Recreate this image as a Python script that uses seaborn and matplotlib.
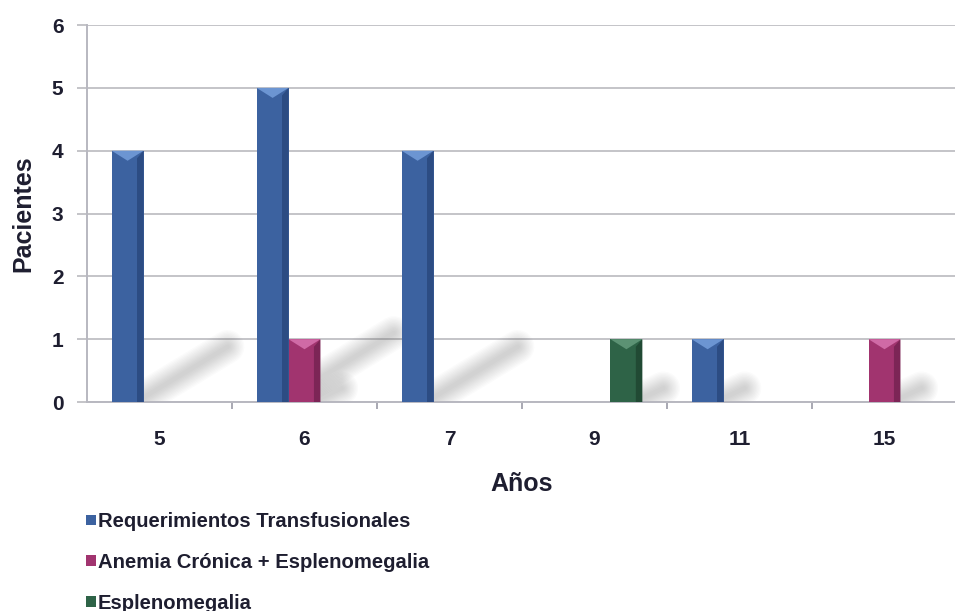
import numpy as np
import pandas as pd
import matplotlib
matplotlib.use("Agg")
import matplotlib.pyplot as plt
from matplotlib.patches import Polygon, Patch
import seaborn as sns

# Ages (years) and number of patients per indication
edades = ["5", "6", "7", "9", "11", "15"]
series = [
    "Requerimientos Transfusionales",
    "Anemia Crónica + Esplenomegalia",
    "Esplenomegalia",
]
requerimientos = [4, 5, 4, 0, 1, 0]
anemia_espleno = [0, 1, 0, 0, 0, 1]
esplenomegalia = [0, 0, 0, 1, 0, 0]
y_ticks = [0, 1, 2, 3, 4, 5, 6]

colores = ["#3C62A0", "#A1346F", "#2E6347"]
claros = ["#6C95D2", "#D06AA6", "#5C9274"]
oscuros = ["#2C4C83", "#7C2556", "#214A34"]
texto = "#1E1E30"

df = pd.DataFrame({
    "Años": edades * 3,
    "Serie": [s for s in series for _ in edades],
    "Pacientes": requerimientos + anemia_espleno + esplenomegalia,
})

sns.set_theme(style="white")
plt.rcParams["font.family"] = ["Liberation Sans", "DejaVu Sans"]
plt.rcParams["font.weight"] = "bold"

fig = plt.figure(figsize=(9.55, 6.11), dpi=100)
ax = fig.add_axes([0.0911, 0.342, 0.911, 0.617])

sns.barplot(data=df, x="Años", y="Pacientes", hue="Serie", order=edades,
            hue_order=series, palette=colores, width=0.66, gap=0,
            saturation=1, legend=False, ax=ax, zorder=3, linewidth=0)

ax.set_ylim(0, 6)
ax.set_xlim(-0.5, len(edades) - 0.5)
ax.set_yticks(y_ticks)

# gridlines and spines
ax.yaxis.grid(True, color="#C4C4C8", linewidth=1.4, zorder=0)
ax.set_axisbelow(True)
for s in ["top", "right"]:
    ax.spines[s].set_visible(False)
for s in ["left", "bottom"]:
    ax.spines[s].set_color("#B8B8C0")
    ax.spines[s].set_linewidth(1.4)

# tick marks between categories, labels at centres
ax.set_xticks(np.arange(len(edades)) + 0.5, minor=True)
ax.tick_params(axis="x", which="minor", length=5, width=1.2, color="#9A9AA6", bottom=True)
ax.tick_params(axis="x", which="major", length=0, pad=20, labelsize=15, labelcolor=texto)
ax.tick_params(axis="y", which="major", length=7, width=1.4, color="#C4C4C8",
               pad=10, labelsize=15, labelcolor=texto, left=True)
for lab in ax.get_xticklabels() + ax.get_yticklabels():
    lab.set_fontweight("bold")

ax.set_xlabel("Años", fontsize=18, fontweight="bold", color=texto, labelpad=17)
ax.set_ylabel("Pacientes", fontsize=18, fontweight="bold", color=texto, labelpad=12)

# bevel highlights and cast shadows for each bar
n_cat = len(edades)
capas = np.linspace(24, 3, 12)
for k, bar in enumerate(list(ax.patches)):
    h = bar.get_height()
    if h <= 0:
        continue
    si = k // n_cat
    x0 = bar.get_x()
    w = bar.get_width()
    x1 = x0 + w
    # soft diagonal shadow behind the bar
    sx0, sy0 = x1 - 0.03, 0.03
    sx1, sy1 = x1 + 0.145 * h, 0.22 * h
    for lw in capas:
        ax.plot([sx0, sx1], [sy0, sy1], color="#6E6E6E", lw=lw, alpha=0.028,
                solid_capstyle="round", zorder=2)
    # darker right face
    ax.add_patch(Polygon([[x1 - 0.045, 0.0], [x1, 0.0], [x1, h], [x1 - 0.045, h - 0.12]],
                         closed=True, facecolor=oscuros[si], edgecolor="none", zorder=4))
    # lighter top bevel
    ax.add_patch(Polygon([[x0, h], [x1, h], [x0 + w / 2, h - 0.16]],
                         closed=True, facecolor=claros[si], edgecolor="none", zorder=4))

# legend below the chart
handles = [Patch(facecolor=c, edgecolor="none") for c in colores]
leg = fig.legend(handles, series, loc="upper left", bbox_to_anchor=(0.082, 0.175),
                 frameon=False, ncol=1, handlelength=0.45, handleheight=0.45,
                 handletextpad=0.1, labelspacing=1.07, borderaxespad=0,
                 prop={"family": "Liberation Sans", "weight": "bold", "size": 14.6})
for t in leg.get_texts():
    t.set_color(texto)

fig.savefig("out.png", dpi=100)
